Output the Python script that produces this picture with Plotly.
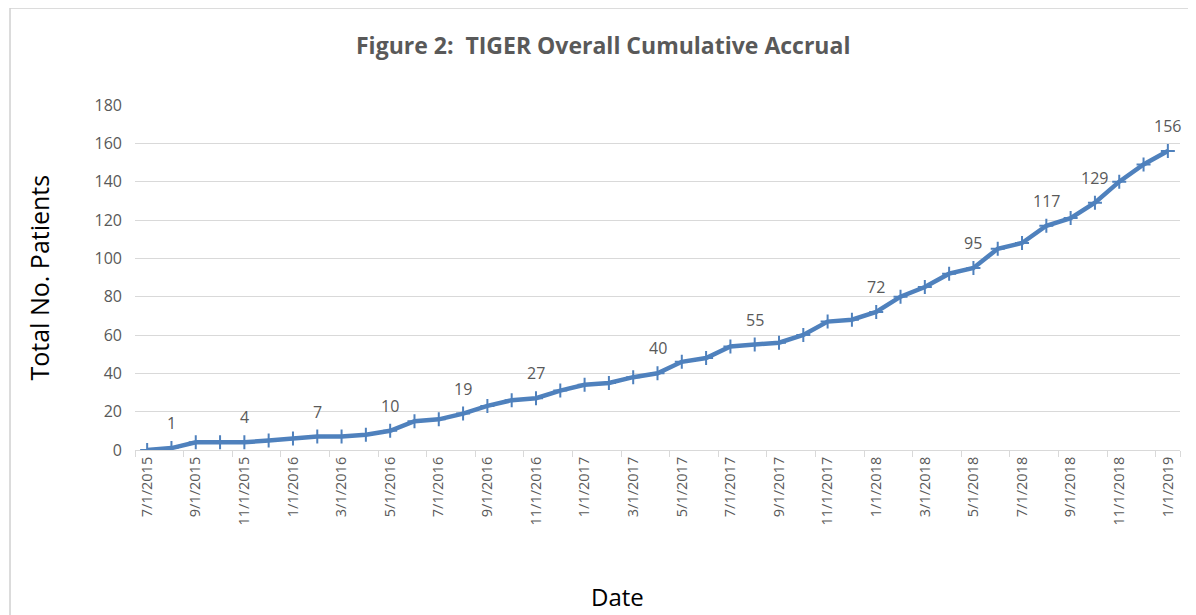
import plotly.graph_objects as go

dates = ["7/1/2015", "8/1/2015", "9/1/2015", "10/1/2015", "11/1/2015", "12/1/2015",
         "1/1/2016", "2/1/2016", "3/1/2016", "4/1/2016", "5/1/2016", "6/1/2016",
         "7/1/2016", "8/1/2016", "9/1/2016", "10/1/2016", "11/1/2016", "12/1/2016",
         "1/1/2017", "2/1/2017", "3/1/2017", "4/1/2017", "5/1/2017", "6/1/2017",
         "7/1/2017", "8/1/2017", "9/1/2017", "10/1/2017", "11/1/2017", "12/1/2017",
         "1/1/2018", "2/1/2018", "3/1/2018", "4/1/2018", "5/1/2018", "6/1/2018",
         "7/1/2018", "8/1/2018", "9/1/2018", "10/1/2018", "11/1/2018", "12/1/2018",
         "1/1/2019"]
patients = [0, 1, 4, 4, 4, 5, 6, 7, 7, 8, 10, 15, 16, 19, 23, 26, 27, 31, 34, 35, 38, 40,
            46, 48, 54, 55, 56, 60, 67, 68, 72, 80, 85, 92, 95, 105, 108, 117, 121, 129,
            140, 149, 156]
labeled_dates = ["8/1/2015", "11/1/2015", "2/1/2016", "5/1/2016", "8/1/2016", "11/1/2016",
                 "4/1/2017", "8/1/2017", "1/1/2018", "5/1/2018", "8/1/2018", "10/1/2018",
                 "1/1/2019"]
tick_dates = dates[::2]
y_ticks = [0, 20, 40, 60, 80, 100, 120, 140, 160, 180]

line_color = "#4f81bd"
grey = "#595959"

fig = go.Figure()
fig.add_trace(go.Scatter(
    x=dates, y=patients, mode="lines+markers",
    line=dict(color=line_color, width=4.5),
    marker=dict(symbol="cross-thin", size=10, line=dict(color=line_color, width=2), color=line_color),
    hoverinfo="x+y", showlegend=False,
))

annotations = []
for d in labeled_dates:
    v = patients[dates.index(d)]
    annotations.append(dict(x=d, y=v, xref="x", yref="y", text=str(v), showarrow=False,
                            yshift=25, font=dict(size=16, color=grey, family="Open Sans")))

annotations.append(dict(text="Figure 2:  TIGER Overall Cumulative Accrual", xref="paper", yref="paper",
                        x=0.448, y=1.0, yshift=60, yanchor="middle", showarrow=False,
                        font=dict(size=23, color=grey, family="Open Sans", weight="bold")))
annotations.append(dict(text="Total No. Patients", xref="paper", yref="paper", x=0, y=0.5,
                        xshift=-97, xanchor="center", yanchor="middle", textangle=-90, showarrow=False,
                        font=dict(size=25, color="#000000", family="Open Sans")))
annotations.append(dict(text="Date", xref="paper", yref="paper", x=0.462, y=0,
                        yshift=-146, yanchor="middle", showarrow=False,
                        font=dict(size=24, color="#000000", family="Open Sans")))

border = dict(color="#d0d0d0", width=1.5)
fig.update_layout(
    width=1188, height=607,
    margin=dict(l=127, r=16, t=97, b=165, autoexpand=False),
    paper_bgcolor="white", plot_bgcolor="white",
    annotations=annotations,
    shapes=[
        dict(type="line", xref="paper", yref="paper", x0=-0.1196, x1=1.2, y0=1.281, y1=1.281,
             line=border, layer="below"),
        dict(type="line", xref="paper", yref="paper", x0=-0.1196, x1=-0.1196, y0=-1.0, y1=1.281,
             line=border, layer="below"),
    ],
    xaxis=dict(type="category", categoryorder="array", categoryarray=dates,
               range=[-0.5, len(dates) - 0.5],
               tickmode="array", tickvals=tick_dates, ticktext=tick_dates,
               tickangle=-90, tickfont=dict(size=14.5, color=grey, family="Open Sans"),
               showgrid=False, showline=True, linecolor="#d9d9d9", linewidth=1,
               ticks="outside", ticklen=6, tickcolor="#d9d9d9", tickson="boundaries",
               zeroline=False),
    yaxis=dict(range=[0, 180], tickmode="array", tickvals=y_ticks,
               tickfont=dict(size=16, color=grey, family="Open Sans"),
               showgrid=True, gridcolor="#d9d9d9", gridwidth=1,
               showline=False, zeroline=False, ticklabelstandoff=12),
)

fig.write_html("out.html")
